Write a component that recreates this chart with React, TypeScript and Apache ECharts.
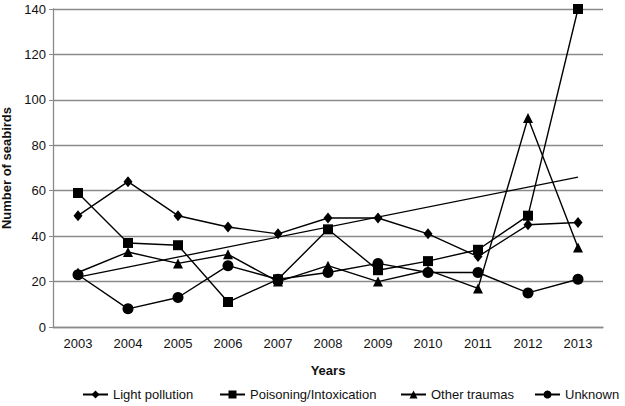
import React, { useEffect, useRef } from "react";
import * as echarts from "echarts";

const years = ["2003", "2004", "2005", "2006", "2007", "2008", "2009", "2010", "2011", "2012", "2013"];
const seriesNames = ["Light pollution", "Poisoning/Intoxication", "Other traumas", "Unknown"];
const lightPollution = [49, 64, 49, 44, 41, 48, 48, 41, 31, 45, 46];
const poisoning = [59, 37, 36, 11, 21, 43, 25, 29, 34, 49, 140];
const otherTraumas = [24, 33, 28, 32, 20, 27, 20, 25, 17, 92, 35];
const unknown = [23, 8, 13, 27, 21, 24, 28, 24, 24, 15, 21];
// linear trend line of Poisoning/Intoxication (endpoints)
const trendStart = 22;
const trendEnd = 66;

const FONT = "'Liberation Sans', Arial, sans-serif";
const legendLefts = [82, 219, 400, 534];

export default function App() {
  const ref = useRef<HTMLDivElement>(null);
  useEffect(() => {
    if (!ref.current) return;
    const chart = echarts.init(ref.current, null, { renderer: "svg" });
    const trend = years.map((_, i) => (i === 0 ? trendStart : i === years.length - 1 ? trendEnd : null));
    const mk = (name: string, data: number[], symbol: string, size: any) => ({
      name,
      type: "line",
      data,
      symbol,
      symbolSize: size,
      showAllSymbol: true,
      lineStyle: { color: "#000", width: 1.4 },
      itemStyle: { color: "#000" },
      z: 3,
    });
    chart.setOption({
      animation: false,
      textStyle: { fontFamily: FONT },
      grid: { left: 53, right: 22, top: 9, bottom: 79, outerBoundsMode: "none", containLabel: false },
      legend: seriesNames.map((n, i) => ({
        left: legendLefts[i],
        top: 388,
        itemWidth: 25,
        itemHeight: 10,
        padding: 0,
        textStyle: { fontSize: 13, color: "#111", fontFamily: FONT },
        data: [n],
      })),
      xAxis: {
        type: "category",
        data: years,
        boundaryGap: true,
        name: "Years",
        nameLocation: "middle",
        nameGap: 37,
        nameTextStyle: { fontWeight: "bold", fontSize: 13, color: "#111", fontFamily: FONT },
        axisLine: { lineStyle: { color: "#8a8a8a", width: 1.3 } },
        axisTick: { show: false },
        axisLabel: { fontSize: 13, color: "#111", margin: 10, fontFamily: FONT },
      },
      yAxis: {
        type: "value",
        min: 0,
        max: 140,
        interval: 20,
        name: "Number of seabirds",
        nameLocation: "middle",
        nameGap: 38,
        nameTextStyle: { fontWeight: "bold", fontSize: 13, color: "#111", fontFamily: FONT },
        axisLine: { show: true, lineStyle: { color: "#8a8a8a", width: 1.3 } },
        axisTick: { show: true, length: 4, lineStyle: { color: "#8a8a8a" } },
        axisLabel: { fontSize: 13, color: "#111", margin: 7, fontFamily: FONT },
        splitLine: { show: true, lineStyle: { color: "#8a8a8a", width: 1.3 } },
      },
      series: [
        mk(seriesNames[0], lightPollution, "diamond", [9, 11]),
        mk(seriesNames[1], poisoning, "rect", 10),
        mk(seriesNames[2], otherTraumas, "triangle", 10),
        mk(seriesNames[3], unknown, "circle", 11),
        {
          name: "trend",
          type: "line",
          data: trend,
          connectNulls: true,
          symbol: "none",
          lineStyle: { color: "#000", width: 1.3 },
          z: 2,
        },
      ],
    });
    return () => chart.dispose();
  }, []);
  return (
    <div
      ref={ref}
      style={{ position: "fixed", left: 0, top: 0, width: 625, height: 406, background: "#fff" }}
    />
  );
}
